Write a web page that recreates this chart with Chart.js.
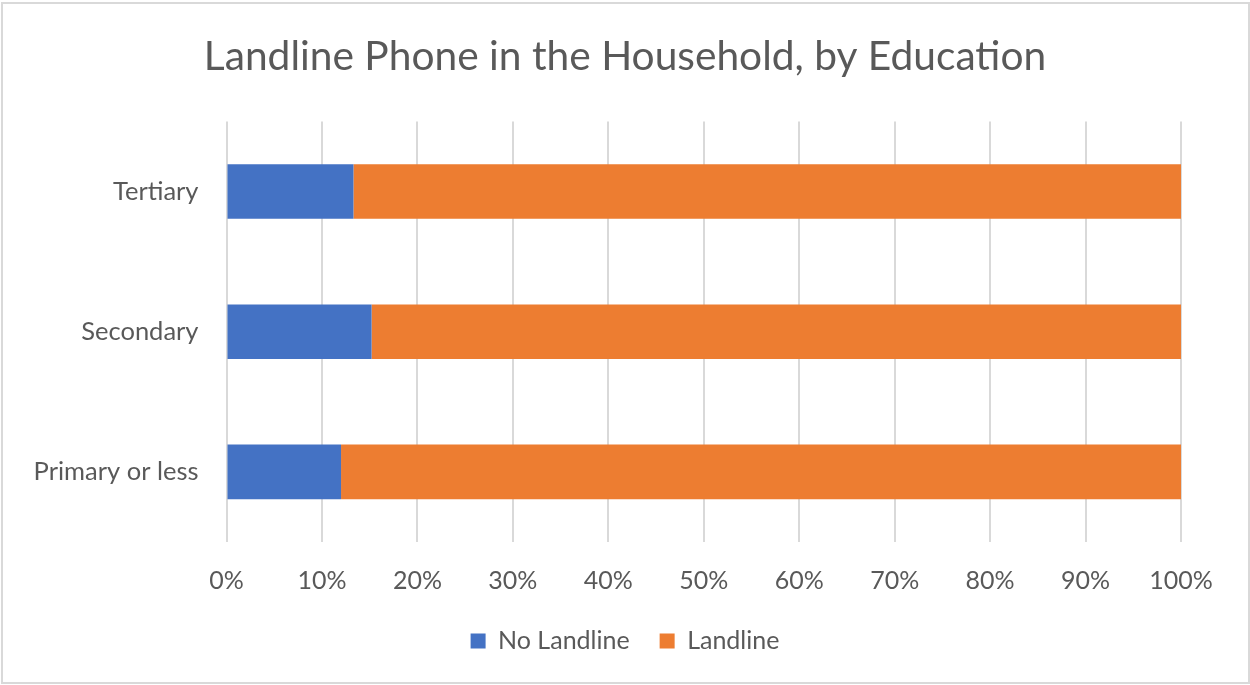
<!DOCTYPE html>
<html>
<head>
<meta charset="utf-8">
<title>Landline Phone in the Household, by Education</title>
<script src="https://cdn.jsdelivr.net/npm/chart.js@4"></script>
<style>
  html, body { margin: 0; padding: 0; background: #fff; }
  #wrap { width: 1250px; height: 685px; position: relative; }
</style>
</head>
<body>
<div id="wrap"><canvas id="landlineChart" width="1250" height="685"></canvas></div>
<script>
const categories = ['Tertiary', 'Secondary', 'Primary or less'];
const noLandline = [13.3, 15.2, 12.0];
const landline = [86.7, 84.8, 88.0];
const tickValues = [0, 10, 20, 30, 40, 50, 60, 70, 80, 90, 100];

const FONT = 'Lato, "Noto Sans", sans-serif';
const TEXT = '#595959';

// white background and light frame round the chart
const frame = {
    id: 'frame',
    beforeDraw(chart) {
        const c = chart.ctx;
        c.save();
        c.fillStyle = '#fff';
        c.fillRect(0, 0, chart.width, chart.height);
        c.strokeStyle = '#d9d9d9';
        c.lineWidth = 2;
        c.strokeRect(2, 3, chart.width - 3, chart.height - 5);
        c.restore();
    }
};

new Chart(document.getElementById('landlineChart'), {
    type: 'bar',
    data: {
        labels: categories,
        datasets: [{
            label: 'No Landline',
            data: noLandline,
            backgroundColor: '#4472C4'
        }, {
            label: 'Landline',
            data: landline,
            backgroundColor: '#ED7D31'
        }]
    },
    options: {
        indexAxis: 'y',
        responsive: false,
        animation: false,
        categoryPercentage: 1,
        barPercentage: 0.39,
        layout: {
            padding: { top: 32, left: 10, right: 10, bottom: 21.5 }
        },
        plugins: {
            title: {
                display: true,
                text: 'Landline Phone in the Household, by Education',
                color: TEXT,
                font: { family: FONT, size: 40.7, weight: 'normal', lineHeight: 1.2 },
                padding: { top: 0, bottom: 40.6 }
            },
            legend: {
                position: 'bottom',
                labels: {
                    color: TEXT,
                    font: { family: FONT, size: 25 },
                    boxWidth: 15,
                    boxHeight: 15,
                    padding: 30
                }
            },
            tooltip: { enabled: false }
        },
        scales: {
            x: {
                stacked: true,
                min: 0,
                max: 100,
                afterBuildTicks(scale) {
                    scale.ticks = tickValues.map(v => ({ value: v }));
                },
                afterFit(scale) { scale.height = 56.5; },
                grid: { color: '#d9d9d9', lineWidth: 2, drawTicks: false },
                border: { display: false },
                ticks: {
                    color: TEXT,
                    font: { family: FONT, size: 25 },
                    padding: 24,
                    callback: v => v + '%'
                }
            },
            y: {
                stacked: true,
                afterFit(scale) { scale.width = 216.5; },
                grid: { display: false, drawTicks: false },
                border: { display: false },
                ticks: {
                    color: TEXT,
                    font: { family: FONT, size: 25.5 },
                    padding: 28
                }
            },
            // blank strip on the right so title and legend sit centred
            yRight: {
                type: 'category',
                axis: 'y',
                position: 'right',
                afterFit(scale) { scale.width = 59; },
                grid: { display: false, drawTicks: false },
                border: { display: false },
                ticks: { display: false }
            }
        }
    },
    plugins: [frame]
});
</script>
</body>
</html>
